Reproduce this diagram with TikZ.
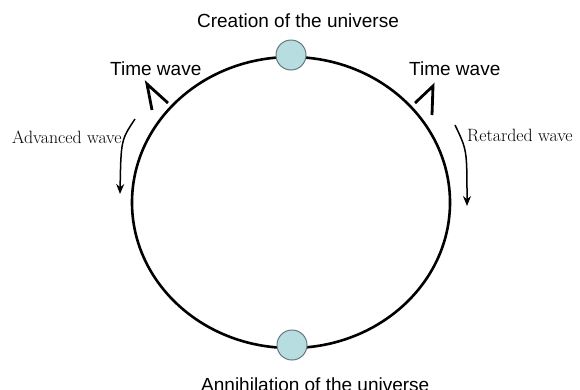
\documentclass[tikz,border=0pt]{standalone}
\usepackage{fontspec}
\newfontfamily\sansfont{Liberation Sans}
\usetikzlibrary{arrows.meta,positioning}
\definecolor{eventfill}{RGB}{183,221,225}
\definecolor{eventdraw}{RGB}{100,122,124}

\begin{document}
\begin{tikzpicture}[x=1pt, y=-1pt,
  ring/.style={line width=2.6pt},
  event/.style={circle, draw=eventdraw, fill=eventfill, line width=1pt, minimum size=30pt, inner sep=0pt},
  title/.style={font=\sansfont\fontsize{19}{22}\selectfont, inner sep=0pt},
  wavetext/.style={font=\fontsize{17.8}{20}\selectfont, inner sep=0pt},
  caret/.style={line width=2.8pt},
  wavearrow/.style={line width=1.5pt, -{Stealth[length=10pt, width=8pt]}}]
\useasboundingbox (0,0) rectangle (580,389);
% the cycle of the universe
\draw[ring] (291,202.5) ellipse [x radius=159, y radius=145.5];
\node[event] (creation) at (291,55) {};
\node[event] (annihilation) at (292,345) {};
\node[title, anchor=base] (creationlabel) at (298,27) {Creation of the universe};
\node[title, anchor=base west] (annihilationlabel) at (201,391) {Annihilation of the universe};
% time waves
\node[title, anchor=base west] (timeleft) at (110,75) {Time wave};
\node[title, anchor=base west] (timeright) at (409,75) {Time wave};
\draw[caret] (152,110) -- (147,84) -- (168,103);
\draw[caret] (415,103) -- (433,86) -- (432,115);
% advanced and retarded waves
\node[wavetext, anchor=base west] (advanced) at (12,143) {Advanced wave};
\node[wavetext, anchor=base west] (retarded) at (467,141) {Retarded wave};
\coordinate (advstart) at (135,119);
\coordinate (advend) at (120,194);
\coordinate (retstart) at (455,125);
\coordinate (retend) at (467,206);
\draw[wavearrow] (advstart) .. controls (121,140) .. (advend);
\draw[wavearrow] (retstart) .. controls (467,150) .. (retend);
\end{tikzpicture}
\end{document}
